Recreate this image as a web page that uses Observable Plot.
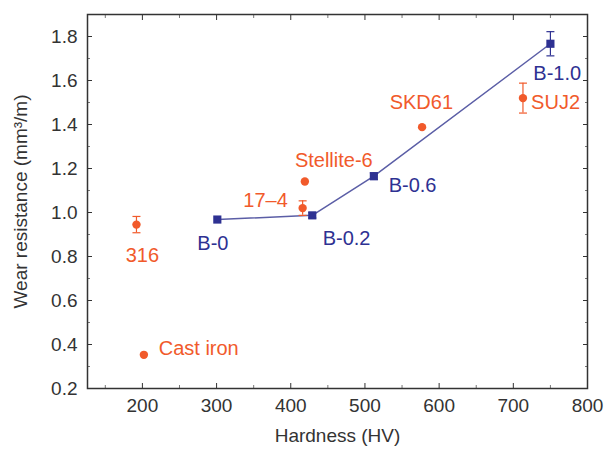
<!DOCTYPE html>
<html>
<head>
<meta charset="utf-8">
<script src="https://cdn.jsdelivr.net/npm/d3@7"></script>
<script src="https://cdn.jsdelivr.net/npm/@observablehq/plot@0.6"></script>
<style>
  html, body { margin: 0; padding: 0; background: #fff; }
  svg { display: block; }
  svg [aria-label="x-axis label"], svg [aria-label="y-axis label"] { font-size: 19px !important; }
  svg [aria-label="x-axis tick label"], svg [aria-label="y-axis tick label"] { font-size: 19px !important; }
</style>
</head>
<body>
<div id="chart"></div>
<script>
// Boron-added series (blue squares, joined by a line)
const bLabels   = ["B-0", "B-0.2", "B-0.6", "B-1.0"];
const bHardness = [301, 429, 512, 750];
const bWear     = [0.968, 0.987, 1.165, 1.767];
const bErr      = [0, 0.012, 0.015, 0.055];
const bLabelX   = [295, 443, 532, 727];
const bLabelY   = [0.86, 0.88, 1.123, 1.632];
const bAnchor   = ["middle", "start", "start", "start"];

// Reference materials (red dots)
const rLabels   = ["316", "17\u20134", "Stellite-6", "SKD61", "SUJ2", "Cast iron"];
const rHardness = [192, 416, 419, 577, 713, 202];
const rWear     = [0.945, 1.02, 1.141, 1.388, 1.52, 0.353];
const rErr      = [0.037, 0.033, 0, 0, 0.068, 0];
const rLabelX   = [200, 366, 458, 576, 724, 222];
const rLabelY   = [0.805, 1.055, 1.236, 1.5, 1.5, 0.382];
const rAnchor   = ["middle", "middle", "middle", "middle", "start", "start"];

const xTicks = [200, 300, 400, 500, 600, 700, 800];
const yTicks = [0.2, 0.4, 0.6, 0.8, 1.0, 1.2, 1.4, 1.6, 1.8];
const xMinor = d3.range(150, 800, 100);
const yMinor = d3.range(0.3, 1.9, 0.2);

const blue = "#2e3192";
const lineBlue = "#5b5ea6";
const red = "#f15a2b";
const axisColor = "#333";

const B = bLabels.map((l, i) => ({label: l, x: bHardness[i], y: bWear[i], e: bErr[i], lx: bLabelX[i], ly: bLabelY[i], anchor: bAnchor[i]}));
const R = rLabels.map((l, i) => ({label: l, x: rHardness[i], y: rWear[i], e: rErr[i], lx: rLabelX[i], ly: rLabelY[i], anchor: rAnchor[i]}));
const Berr = B.filter(d => d.e > 0);
const Rerr = R.filter(d => d.e > 0);

const cap = {draw(ctx, size) { const w = 4; ctx.moveTo(-w, 0); ctx.lineTo(w, 0); }};

const font = "Liberation Sans, Arial, Helvetica, sans-serif";

function labels(data, color) {
  return ["start", "middle", "end"].map(a =>
    Plot.text(data.filter(d => d.anchor === a), {x: "lx", y: "ly", text: "label", textAnchor: a, fill: color, fontSize: 20})
  );
}

const chart = Plot.plot({
  width: 614,
  height: 450,
  marginLeft: 87,
  marginRight: 27,
  marginTop: 14,
  marginBottom: 62,
  style: {fontFamily: font, fontSize: "19px", color: "#222", background: "#fff"},
  x: {domain: [126, 800]},
  y: {domain: [0.2, 1.9]},
  marks: [
    // major ticks (inward) on all four sides
    Plot.axisX(xTicks, {anchor: "bottom", tickSize: -5, tickFormat: () => "", label: null, stroke: axisColor}),
    Plot.axisX(xTicks, {anchor: "top", tickSize: -5, tickFormat: () => "", label: null, stroke: axisColor}),
    Plot.axisY(yTicks, {anchor: "left", tickSize: -5, tickFormat: () => "", label: null, stroke: axisColor}),
    Plot.axisY(yTicks, {anchor: "right", tickSize: -5, tickFormat: () => "", label: null, stroke: axisColor}),
    // minor ticks
    Plot.axisX(xMinor, {anchor: "bottom", tickSize: -3, tickFormat: () => "", label: null, stroke: "#777"}),
    Plot.axisX(xMinor, {anchor: "top", tickSize: -3, tickFormat: () => "", label: null, stroke: "#777"}),
    Plot.axisY(yMinor, {anchor: "left", tickSize: -3, tickFormat: () => "", label: null, stroke: "#777"}),
    Plot.axisY(yMinor, {anchor: "right", tickSize: -3, tickFormat: () => "", label: null, stroke: "#777"}),
    // labels
    Plot.axisX(xTicks, {anchor: "bottom", tickSize: 0, tickPadding: 10, fontSize: 19, fill: "#333",
      label: "Hardness (HV)", labelAnchor: "center", labelArrow: "none", labelOffset: 53}),
    Plot.axisY(yTicks, {anchor: "left", tickSize: 0, tickPadding: 10, fontSize: 19, fill: "#333",
      tickFormat: d3.format(".1f"),
      label: "Wear resistance (mm\u00B3/m)", labelAnchor: "center", labelArrow: "none", labelOffset: 74}),
    Plot.frame({stroke: axisColor, strokeWidth: 1.5}),
    // blue line + squares
    Plot.line(B, {x: "x", y: "y", stroke: lineBlue, strokeWidth: 1.5}),
    Plot.ruleX(Berr, {x: "x", y1: d => d.y - d.e, y2: d => d.y + d.e, stroke: blue, strokeWidth: 1.2}),
    Plot.dot(Berr, {x: "x", y: d => d.y - d.e, symbol: cap, stroke: blue, strokeWidth: 1.2}),
    Plot.dot(Berr, {x: "x", y: d => d.y + d.e, symbol: cap, stroke: blue, strokeWidth: 1.2}),
    Plot.dot(B, {x: "x", y: "y", symbol: "square", r: 4.6, fill: blue, stroke: "none"}),
    // red error bars + dots
    Plot.ruleX(Rerr, {x: "x", y1: d => d.y - d.e, y2: d => d.y + d.e, stroke: red, strokeWidth: 1.2}),
    Plot.dot(Rerr, {x: "x", y: d => d.y - d.e, symbol: cap, stroke: red, strokeWidth: 1.2}),
    Plot.dot(Rerr, {x: "x", y: d => d.y + d.e, symbol: cap, stroke: red, strokeWidth: 1.2}),
    Plot.dot(R, {x: "x", y: "y", r: 4.2, fill: red, stroke: "none"}),
    // text labels
    ...labels(B, blue),
    ...labels(R, red)
  ]
});

document.getElementById("chart").appendChild(chart);
</script>
</body>
</html>
